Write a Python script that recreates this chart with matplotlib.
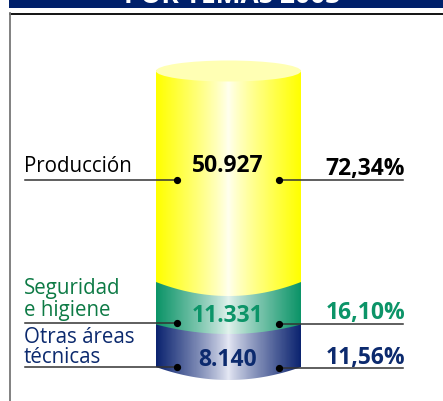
#!/usr/bin/env python3
"""Stacked cylinder chart: 2003 totals by subject area"""

import matplotlib
matplotlib.use('Agg')
import matplotlib.pyplot as plt
from matplotlib.colors import LinearSegmentedColormap
from matplotlib.patches import Ellipse, Polygon
import numpy as np

labels = ['Producción', 'Seguridad\ne higiene', 'Otras áreas\ntécnicas']
values = ['50.927', '11.331', '8.140']
shares = ['72,34%', '16,10%', '11,56%']
header = 'POR TEMAS 2003'

label_colors = ['#000000', '#0d7a45', '#0c2a6e']
value_colors = ['#000000', '#0c9468', '#0c2a6e']
edge_colors = ['#ffff00', '#0c9468', '#0c2470']
mid_colors = ['#fffff0', '#e4f3ee', '#e6e9f5']

# pixel layout of the cylinder
X0, X1 = 156, 301
CX = (X0 + X1) / 2
RX = (X1 - X0) / 2
RY = 10.5
TOP = 71
BOTTOMS = [282, 324.5, 367]
SAGS = [14, 9.5, 13]
LINE_Y = [179.5, 323, 367]
LABEL_Y = [172, 315.7, 362.7]
LINESPACE = [1, 1.02, 0.9]
VALUE_Y = [172.5, 321.5, 366]
SHARE_Y = [174.5, 319.5, 364]

plt.rcParams['font.family'] = ['Open Sans', 'DejaVu Sans']

fig = plt.figure(figsize=(4.43, 4.01), dpi=100)
ax = fig.add_axes([0, 0, 1, 1])
ax.set_xlim(0, 443)
ax.set_ylim(401, 0)
ax.axis('off')

# header and frame
ax.fill_between([9, 443], 0, 8, color='#00206b', lw=0, zorder=1)
ax.text(232, 3, header, color='white', fontsize=19, fontweight='bold',
        ha='center', va='baseline', zorder=2)
ax.plot([10, 443], [13.5, 13.5], color='black', lw=1.3, zorder=1)
ax.plot([10, 10], [13, 401], color='#777777', lw=1.3, zorder=1)


def arc(y, sag):
    xs = np.linspace(X0, X1, 80)
    return xs, y + sag * (1 - ((xs - CX) / RX) ** 2)


# segments, drawn bottom to top so each arc overlaps the one below
tops = [TOP] + BOTTOMS[:-1]
for i in [2, 1, 0]:
    cmap = LinearSegmentedColormap.from_list(
        'seg', [(0, edge_colors[i]), (0.5, mid_colors[i]), (1, edge_colors[i])])
    grad = np.linspace(0, 1, 256).reshape(1, -1)
    # push the colour towards the edges, leaving a narrow highlight
    grad = 0.5 + 0.5 * np.sign(grad - 0.5) * (np.abs(grad - 0.5) * 2) ** 0.85
    im = ax.imshow(grad, cmap=cmap, extent=[X0, X1, BOTTOMS[i] + SAGS[i], tops[i] - 1],
                   aspect='auto', vmin=0, vmax=1, zorder=3 + (2 - i),
                   interpolation='bilinear')
    xs, ys = arc(BOTTOMS[i], SAGS[i])
    poly = Polygon(np.vstack([[[X0, tops[i] - 1], [X1, tops[i] - 1]],
                              np.column_stack([xs[::-1], ys[::-1]])]),
                   transform=ax.transData, fc='none', ec='none')
    ax.add_patch(poly)
    im.set_clip_path(poly)

ax.add_patch(Ellipse((CX, TOP), X1 - X0, 2 * RY, fc='#ffffb4', ec='none', zorder=6))
ax.set_xlim(0, 443)
ax.set_ylim(401, 0)

# leader lines, dots and texts
for i in range(3):
    y = LINE_Y[i]
    ax.plot([25, 177], [y, y], color='#333333', lw=1.1, zorder=7)
    ax.plot([279, 403], [y + 0.5, y + 0.5], color='#333333', lw=1.1, zorder=7)
    ax.plot([177, 279], [y, y + 0.5], 'o', color='black', ms=4.2, zorder=8)
    ax.text(24, LABEL_Y[i], labels[i], color=label_colors[i], fontsize=14.8,
            va='baseline', ha='left', linespacing=LINESPACE[i], zorder=9)
    ax.text(228, VALUE_Y[i], values[i], color=value_colors[i], fontsize=16.5,
            fontweight='bold', ha='center', va='baseline', zorder=9)
    ax.text(405, SHARE_Y[i], shares[i], color=value_colors[i], fontsize=16.5,
            fontweight='bold', ha='right', va='baseline', zorder=9)

fig.savefig('out.png', dpi=100)
